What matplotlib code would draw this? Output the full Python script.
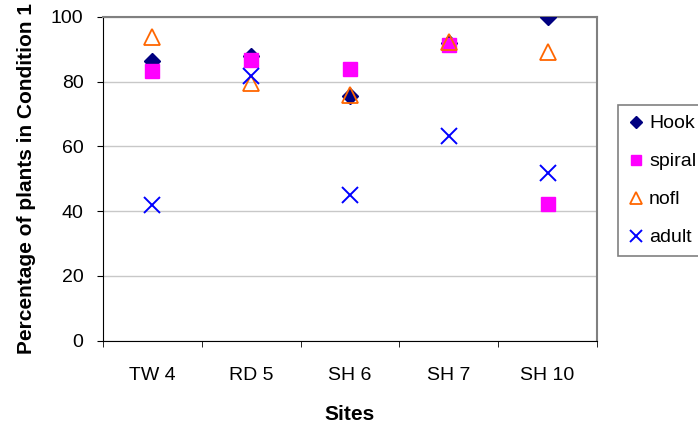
import numpy as np
import matplotlib.pyplot as plt
from matplotlib.ticker import FixedLocator

plt.rcParams['font.family'] = ['Liberation Sans', 'DejaVu Sans']

sites = ['TW 4', 'RD 5', 'SH 6', 'SH 7', 'SH 10']
hook = [86.5, 88, 75.5, 92, 100]
spiral = [83.3, 86.8, 83.9, 91.2, 42.3]
nofl = [93.7, 79.5, 75.8, 92.4, 89.3]
adult = [42, 81.6, 45, 63.2, 51.8]

x = np.arange(len(sites))

fig = plt.figure(figsize=(6.98, 4.23), dpi=100)
ax = fig.add_axes([0.1476, 0.195, 0.7077, 0.765])

ax.plot(x, hook, linestyle='none', marker='D', markersize=8.5,
        color='#000080', label='Hook', zorder=3)
ax.plot(x, spiral, linestyle='none', marker='s', markersize=10.5,
        color='#FF00FF', label='spiral', zorder=3)
ax.plot(x, nofl, linestyle='none', marker='^', markersize=11,
        markerfacecolor='none', markeredgecolor='#FF6600', markeredgewidth=1.3,
        label='nofl', zorder=4)
ax.plot(x, adult, linestyle='none', marker='x', markersize=12,
        markeredgewidth=1.4, color='#0000FF', label='adult', zorder=4)

ax.set_xlim(-0.5, len(sites) - 0.5)
ax.set_ylim(0, 100)
ax.set_yticks(np.arange(0, 101, 20))
ax.set_xticks(x)
ax.set_xticklabels(sites, fontsize=14)
ax.xaxis.set_minor_locator(FixedLocator(np.arange(-0.5, len(sites), 1)))
ax.tick_params(axis='x', which='major', length=0, pad=19)
ax.tick_params(axis='x', which='minor', length=4, direction='out', color='black')
ax.tick_params(axis='y', length=4, direction='out', labelsize=14, pad=10)

ax.yaxis.grid(True, color='#C8C8C8', linewidth=1)
ax.set_axisbelow(True)

ax.spines['left'].set_color('black')
ax.spines['bottom'].set_color('black')
ax.spines['top'].set_color('#808080')
ax.spines['right'].set_color('#808080')
ax.spines['top'].set_linewidth(1.5)
ax.spines['right'].set_linewidth(1.5)

ax.set_xlabel('Sites', fontsize=15, fontweight='bold', labelpad=15)
ax.set_ylabel('Percentage of plants in Condition 1', fontsize=15,
              fontweight='bold', labelpad=11)

leg = fig.legend(loc='upper left', bbox_to_anchor=(618 / 698, 1 - 105 / 423),
                 fontsize=14, frameon=True, fancybox=False, handletextpad=0.3,
                 labelspacing=1.05, borderpad=0.5, handlelength=0.8,
                 markerscale=0.75, borderaxespad=0)
leg.get_frame().set_edgecolor('#606060')
leg.get_frame().set_linewidth(1.2)

fig.savefig('out.png', dpi=100)
